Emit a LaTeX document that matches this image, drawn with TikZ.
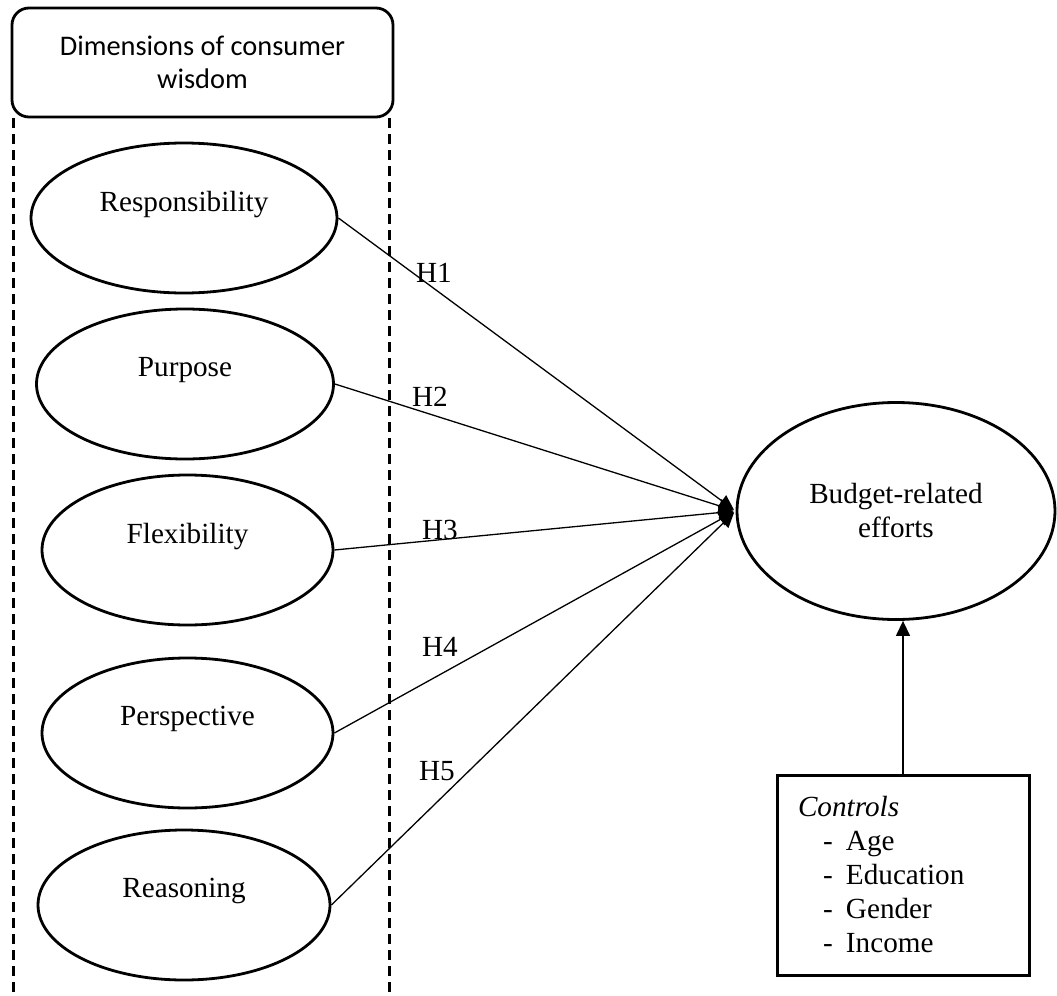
\documentclass[tikz,border=0pt]{standalone}
\usepackage{fontspec}
\setmainfont{Liberation Serif}
\newfontfamily\calibrifont{Carlito}
\usepackage{tikz}
\usetikzlibrary{arrows.meta,shapes.geometric}
\newcommand{\ctrlitem}[1]{\hspace*{12.5pt}\makebox[11.5pt][l]{-}#1}

\begin{document}
\begin{tikzpicture}[x=0.5pt, y=-0.5pt, font=\fontsize{14.6}{17}\selectfont, >={Triangle[length=7.5pt,width=7pt]},
  construct/.style={ellipse, draw, line width=1.4pt, inner sep=0pt, align=center, minimum height=75pt},
  hyp/.style={->, line width=0.65pt, shorten >=1pt},
  lane/.style={line width=1.3pt, dash pattern=on 5pt off 3pt}]
  \useasboundingbox (0,0) rectangle (1057,996);
  \node[draw, rounded corners=8.5pt, line width=1.4pt, minimum width=190.5pt, minimum height=54.5pt, align=center,
        font=\calibrifont\fontsize{14.2}{16.5}\selectfont] (dim) at (202.5,62.5) {Dimensions of consumer\\wisdom};
  \draw[lane] ([xshift=1.5pt]dim.south west) -- ++(0,879);
  \draw[lane] ([xshift=-2.5pt]dim.south east) -- ++(0,879);
  \node[construct, minimum width=153pt] (resp) at (184,218) {Responsibility\\~};
  \node[construct, minimum width=148.5pt] (purp) at (185,384) {Purpose\\~};
  \node[construct, minimum width=145.5pt] (flex) at (187.5,550) {Flexibility\\~};
  \node[construct, minimum width=145.5pt] (pers) at (187.5,733) {Perspective\\~};
  \node[construct, minimum width=146pt] (reas) at (184,905) {Reasoning\\~};
  \node[construct, minimum width=159pt, minimum height=108.5pt] (bre) at (896,511) {Budget-related\\efforts};
  \node[draw, line width=1.5pt, minimum width=126pt, minimum height=100pt, text width=105pt, inner xsep=10.5pt, align=left]
    (ctrl) at (903,875) {\textit{Controls}\\\ctrlitem{Age}\\\ctrlitem{Education}\\\ctrlitem{Gender}\\\ctrlitem{Income}};
  \draw[hyp] (resp.east) -- (bre.west);
  \draw[hyp] (purp.east) -- (bre.west);
  \draw[hyp] (flex.east) -- (bre.west);
  \draw[hyp] (pers.east) -- (bre.west);
  \draw[hyp] (reas.east) -- (bre.west);
  \draw[->, line width=0.65pt] (ctrl.north) -- (ctrl.north |- bre.south);
  \node (h1) at (434,273) {H1};
  \node (h2) at (430,397) {H2};
  \node (h3) at (440,530) {H3};
  \node (h4) at (440,647) {H4};
  \node (h5) at (437,771) {H5};
\end{tikzpicture}
\end{document}
